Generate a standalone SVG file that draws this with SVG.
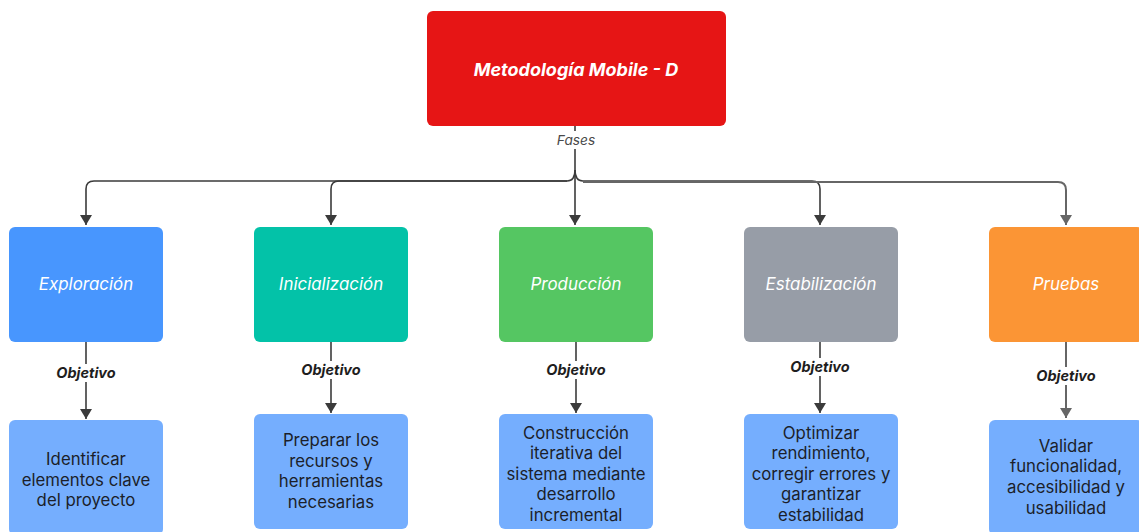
<svg xmlns="http://www.w3.org/2000/svg" width="1139" height="532" viewBox="0 0 1139 532">
<defs>
<style>
.phase{font-family:Inter,"Noto Sans","Liberation Sans",sans-serif;font-size:16.9px;font-style:italic;fill:#ffffff;text-anchor:middle}
.title{font-family:Inter,"Noto Sans","Liberation Sans",sans-serif;font-size:18px;font-style:italic;font-weight:700;fill:#ffffff;text-anchor:middle}
.detail{font-family:Inter,"Noto Sans","Liberation Sans",sans-serif;font-size:16.8px;fill:#1c1f2a;text-anchor:middle}
.lbl{font-family:Inter,"Noto Sans","Liberation Sans",sans-serif;font-size:14.5px;font-style:italic;font-weight:700;fill:#1e1e1e;text-anchor:middle}
.fases{font-family:Inter,"Noto Sans","Liberation Sans",sans-serif;font-size:13.7px;font-style:italic;fill:#4a4a4a;text-anchor:middle}
.con{fill:none;stroke:#3b3b3b;stroke-width:1.6}
.con2{fill:none;stroke:#666666;stroke-width:2}
.dbox{fill:#75aefe}
</style>
<marker id="ah" viewBox="0 0 10 12" refX="10" refY="6" markerWidth="10" markerHeight="12" markerUnits="userSpaceOnUse" orient="auto"><path d="M0,0 L10,6 L0,12 z" fill="#3b3b3b"/></marker>
<marker id="ah2" viewBox="0 0 10 12" refX="10" refY="6" markerWidth="10" markerHeight="12" markerUnits="userSpaceOnUse" orient="auto"><path d="M0,0 L10,6 L0,12 z" fill="#666666"/></marker>
</defs>
<rect width="1139" height="532" fill="#ffffff"/>
<g id="connectors">
<path class="con" d="M575,126 V225" marker-end="url(#ah)"/>
<path class="con" d="M575,170 Q575,181 567,181 H94 Q86,181 86,189 V225" marker-end="url(#ah)"/>
<path class="con" d="M567,181 H339 Q331,181 331,189 V225" marker-end="url(#ah)"/>
<path class="con" d="M575,170 Q575,181 583,181 H812 Q820,181 820,189 V225" marker-end="url(#ah)"/>
<path class="con2" d="M583,182 H1058 Q1066,182 1066,190 V225" marker-end="url(#ah2)"/>
<path class="con" d="M86,342 V419" marker-end="url(#ah)"/>
<path class="con" d="M331,342 V413" marker-end="url(#ah)"/>
<path class="con" d="M576,342 V413" marker-end="url(#ah)"/>
<path class="con" d="M820,342 V413" marker-end="url(#ah)"/>
<path class="con2" d="M1066,342 V418" marker-end="url(#ah2)"/>
<rect x="546" y="131" width="60" height="18" fill="#ffffff"/>
<text class="fases" x="576" y="145">Fases</text>
<rect x="50" y="364" width="72" height="18" fill="#ffffff"/>
<text class="lbl" x="86" y="378">Objetivo</text>
<rect x="295" y="361" width="72" height="18" fill="#ffffff"/>
<text class="lbl" x="331" y="375">Objetivo</text>
<rect x="540" y="361" width="72" height="18" fill="#ffffff"/>
<text class="lbl" x="576" y="375">Objetivo</text>
<rect x="784" y="358" width="72" height="18" fill="#ffffff"/>
<text class="lbl" x="820" y="372">Objetivo</text>
<rect x="1030" y="367" width="72" height="18" fill="#ffffff"/>
<text class="lbl" x="1066" y="381">Objetivo</text>
</g>
<g id="root">
<rect x="427" y="11" width="299" height="115" rx="6" fill="#e61515"/>
<text class="title" x="576" y="76">Metodología Mobile - D</text>
</g>
<g id="exploracion">
<rect x="9" y="227" width="154" height="115" rx="6" fill="#4896fe"/>
<text class="phase" x="86" y="290">Exploración</text>
</g>
<g id="inicializacion">
<rect x="254" y="227" width="154" height="115" rx="6" fill="#03c2a8"/>
<text class="phase" x="331" y="290">Inicialización</text>
</g>
<g id="produccion">
<rect x="499" y="227" width="154" height="115" rx="6" fill="#55c662"/>
<text class="phase" x="576" y="290">Producción</text>
</g>
<g id="estabilizacion">
<rect x="744" y="227" width="154" height="115" rx="6" fill="#979da7"/>
<text class="phase" x="821" y="290">Estabilización</text>
</g>
<g id="pruebas">
<rect x="989" y="227" width="154" height="115" rx="6" fill="#fb9535"/>
<text class="phase" x="1066" y="290">Pruebas</text>
</g>
<g id="obj-exploracion">
<rect class="dbox" x="9" y="420" width="154" height="115" rx="6"/>
<text class="detail" x="86" y="465">Identificar</text>
<text class="detail" x="86" y="486">elementos clave</text>
<text class="detail" x="86" y="506">del proyecto</text>
</g>
<g id="obj-inicializacion">
<rect class="dbox" x="254" y="414" width="154" height="115" rx="6"/>
<text class="detail" x="331" y="446">Preparar los</text>
<text class="detail" x="331" y="467">recursos y</text>
<text class="detail" x="331" y="487">herramientas</text>
<text class="detail" x="331" y="508">necesarias</text>
</g>
<g id="obj-produccion">
<rect class="dbox" x="499" y="414" width="154" height="115" rx="6"/>
<text class="detail" x="576" y="439">Construcción</text>
<text class="detail" x="576" y="459">iterativa del</text>
<text class="detail" x="576" y="480">sistema mediante</text>
<text class="detail" x="576" y="500">desarrollo</text>
<text class="detail" x="576" y="521">incremental</text>
</g>
<g id="obj-estabilizacion">
<rect class="dbox" x="744" y="414" width="154" height="115" rx="6"/>
<text class="detail" x="821" y="439">Optimizar</text>
<text class="detail" x="821" y="459">rendimiento,</text>
<text class="detail" x="821" y="480">corregir errores y</text>
<text class="detail" x="821" y="500">garantizar</text>
<text class="detail" x="821" y="521">estabilidad</text>
</g>
<g id="obj-pruebas">
<rect class="dbox" x="989" y="420" width="154" height="115" rx="6"/>
<text class="detail" x="1066" y="452">Validar</text>
<text class="detail" x="1066" y="472">funcionalidad,</text>
<text class="detail" x="1066" y="493">accesibilidad y</text>
<text class="detail" x="1066" y="514">usabilidad</text>
</g>
</svg>
